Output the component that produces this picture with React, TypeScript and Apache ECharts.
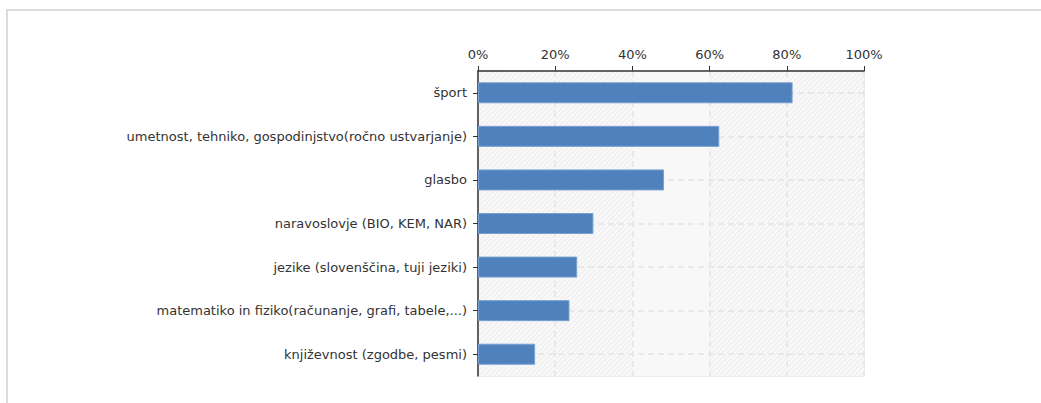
import React, { useEffect, useRef } from "react";
import * as echarts from "echarts";

const categories = [
  "šport",
  "umetnost, tehniko, gospodinjstvo(ročno ustvarjanje)",
  "glasbo",
  "naravoslovje (BIO, KEM, NAR)",
  "jezike (slovenščina, tuji jeziki)",
  "matematiko in fiziko(računanje, grafi, tabele,...)",
  "književnost (zgodbe, pesmi)",
];
const values = [81.5, 62.5, 48.2, 29.9, 25.7, 23.7, 14.8];
const xTicks = [0, 20, 40, 60, 80, 100];

function makeHatch(): HTMLCanvasElement {
  const c = document.createElement("canvas");
  c.width = 5;
  c.height = 5;
  const ctx = c.getContext("2d")!;
  ctx.fillStyle = "#f8f8f8";
  ctx.fillRect(0, 0, 5, 5);
  ctx.strokeStyle = "#ebebeb";
  ctx.lineWidth = 1;
  ctx.beginPath();
  ctx.moveTo(-1, 6);
  ctx.lineTo(6, -1);
  ctx.moveTo(-1, 1);
  ctx.lineTo(1, -1);
  ctx.moveTo(4, 6);
  ctx.lineTo(6, 4);
  ctx.stroke();
  return c;
}

export default function App() {
  const ref = useRef<HTMLDivElement>(null);
  useEffect(() => {
    if (!ref.current) return;
    const chart = echarts.init(ref.current, undefined, { renderer: "svg" });
    const hatch = { image: makeHatch(), repeat: "repeat" } as any;
    const font = "'DejaVu Sans', Verdana, sans-serif";
    chart.setOption({
      animation: false,
      textStyle: { fontFamily: font },
      graphic: [
        {
          type: "line",
          shape: { x1: 6, y1: 10, x2: 1041, y2: 10 },
          style: { stroke: "#dcdcdc", lineWidth: 2 },
          silent: true,
        },
        {
          type: "line",
          shape: { x1: 7, y1: 9, x2: 7, y2: 403 },
          style: { stroke: "#dcdcdc", lineWidth: 2 },
          silent: true,
        },
      ],
      grid: {
        left: 478,
        right: 177,
        top: 71,
        bottom: 27,
        show: true,
        borderColor: "#dddddd",
        borderWidth: 1,
        backgroundColor: "#f8f8f8",
      },
      xAxis: {
        type: "value",
        position: "top",
        min: 0,
        max: 100,
        interval: 20,
        axisLine: { show: true, lineStyle: { color: "#333", width: 1.5 } },
        axisTick: { show: true, length: 5, lineStyle: { color: "#333" } },
        axisLabel: {
          color: "#333",
          fontSize: 13,
          fontFamily: font,
          margin: 10,
          formatter: (v: number) => (xTicks.includes(v) ? v + "%" : ""),
        },
        splitLine: {
          show: true,
          lineStyle: { color: "#e3e3e3", type: [6, 4], width: 1.5 },
        },
        splitArea: {
          show: true,
          areaStyle: { color: [hatch, hatch, "#f8f8f8", hatch, hatch] },
        },
      },
      yAxis: {
        type: "category",
        data: categories,
        inverse: true,
        axisLine: { show: true, lineStyle: { color: "#333", width: 1.5 } },
        axisTick: { show: true, alignWithLabel: true, length: 5, lineStyle: { color: "#333" } },
        axisLabel: { color: "#333", fontSize: 13, fontFamily: font, margin: 11 },
        splitLine: { show: false },
      },
      series: [
        {
          type: "line",
          data: [],
          z: 1,
          silent: true,
          markLine: {
            z: 1,
            silent: true,
            symbol: "none",
            label: { show: false },
            lineStyle: { color: "#e3e3e3", type: [6, 4], width: 1.5 },
            data: categories.map((c) => ({ yAxis: c })),
          },
        },
        {
          type: "bar",
          data: values,
          z: 3,
          barWidth: 21,
          itemStyle: { color: "#4f81bd", borderColor: "#78a0d2", borderWidth: 1 },
        },
      ],
    });
    return () => chart.dispose();
  }, []);
  return (
    <div style={{ position: "absolute", left: 0, top: 0, width: 1041, height: 403 }}>
      <div ref={ref} style={{ width: 1041, height: 403 }} />
    </div>
  );
}
